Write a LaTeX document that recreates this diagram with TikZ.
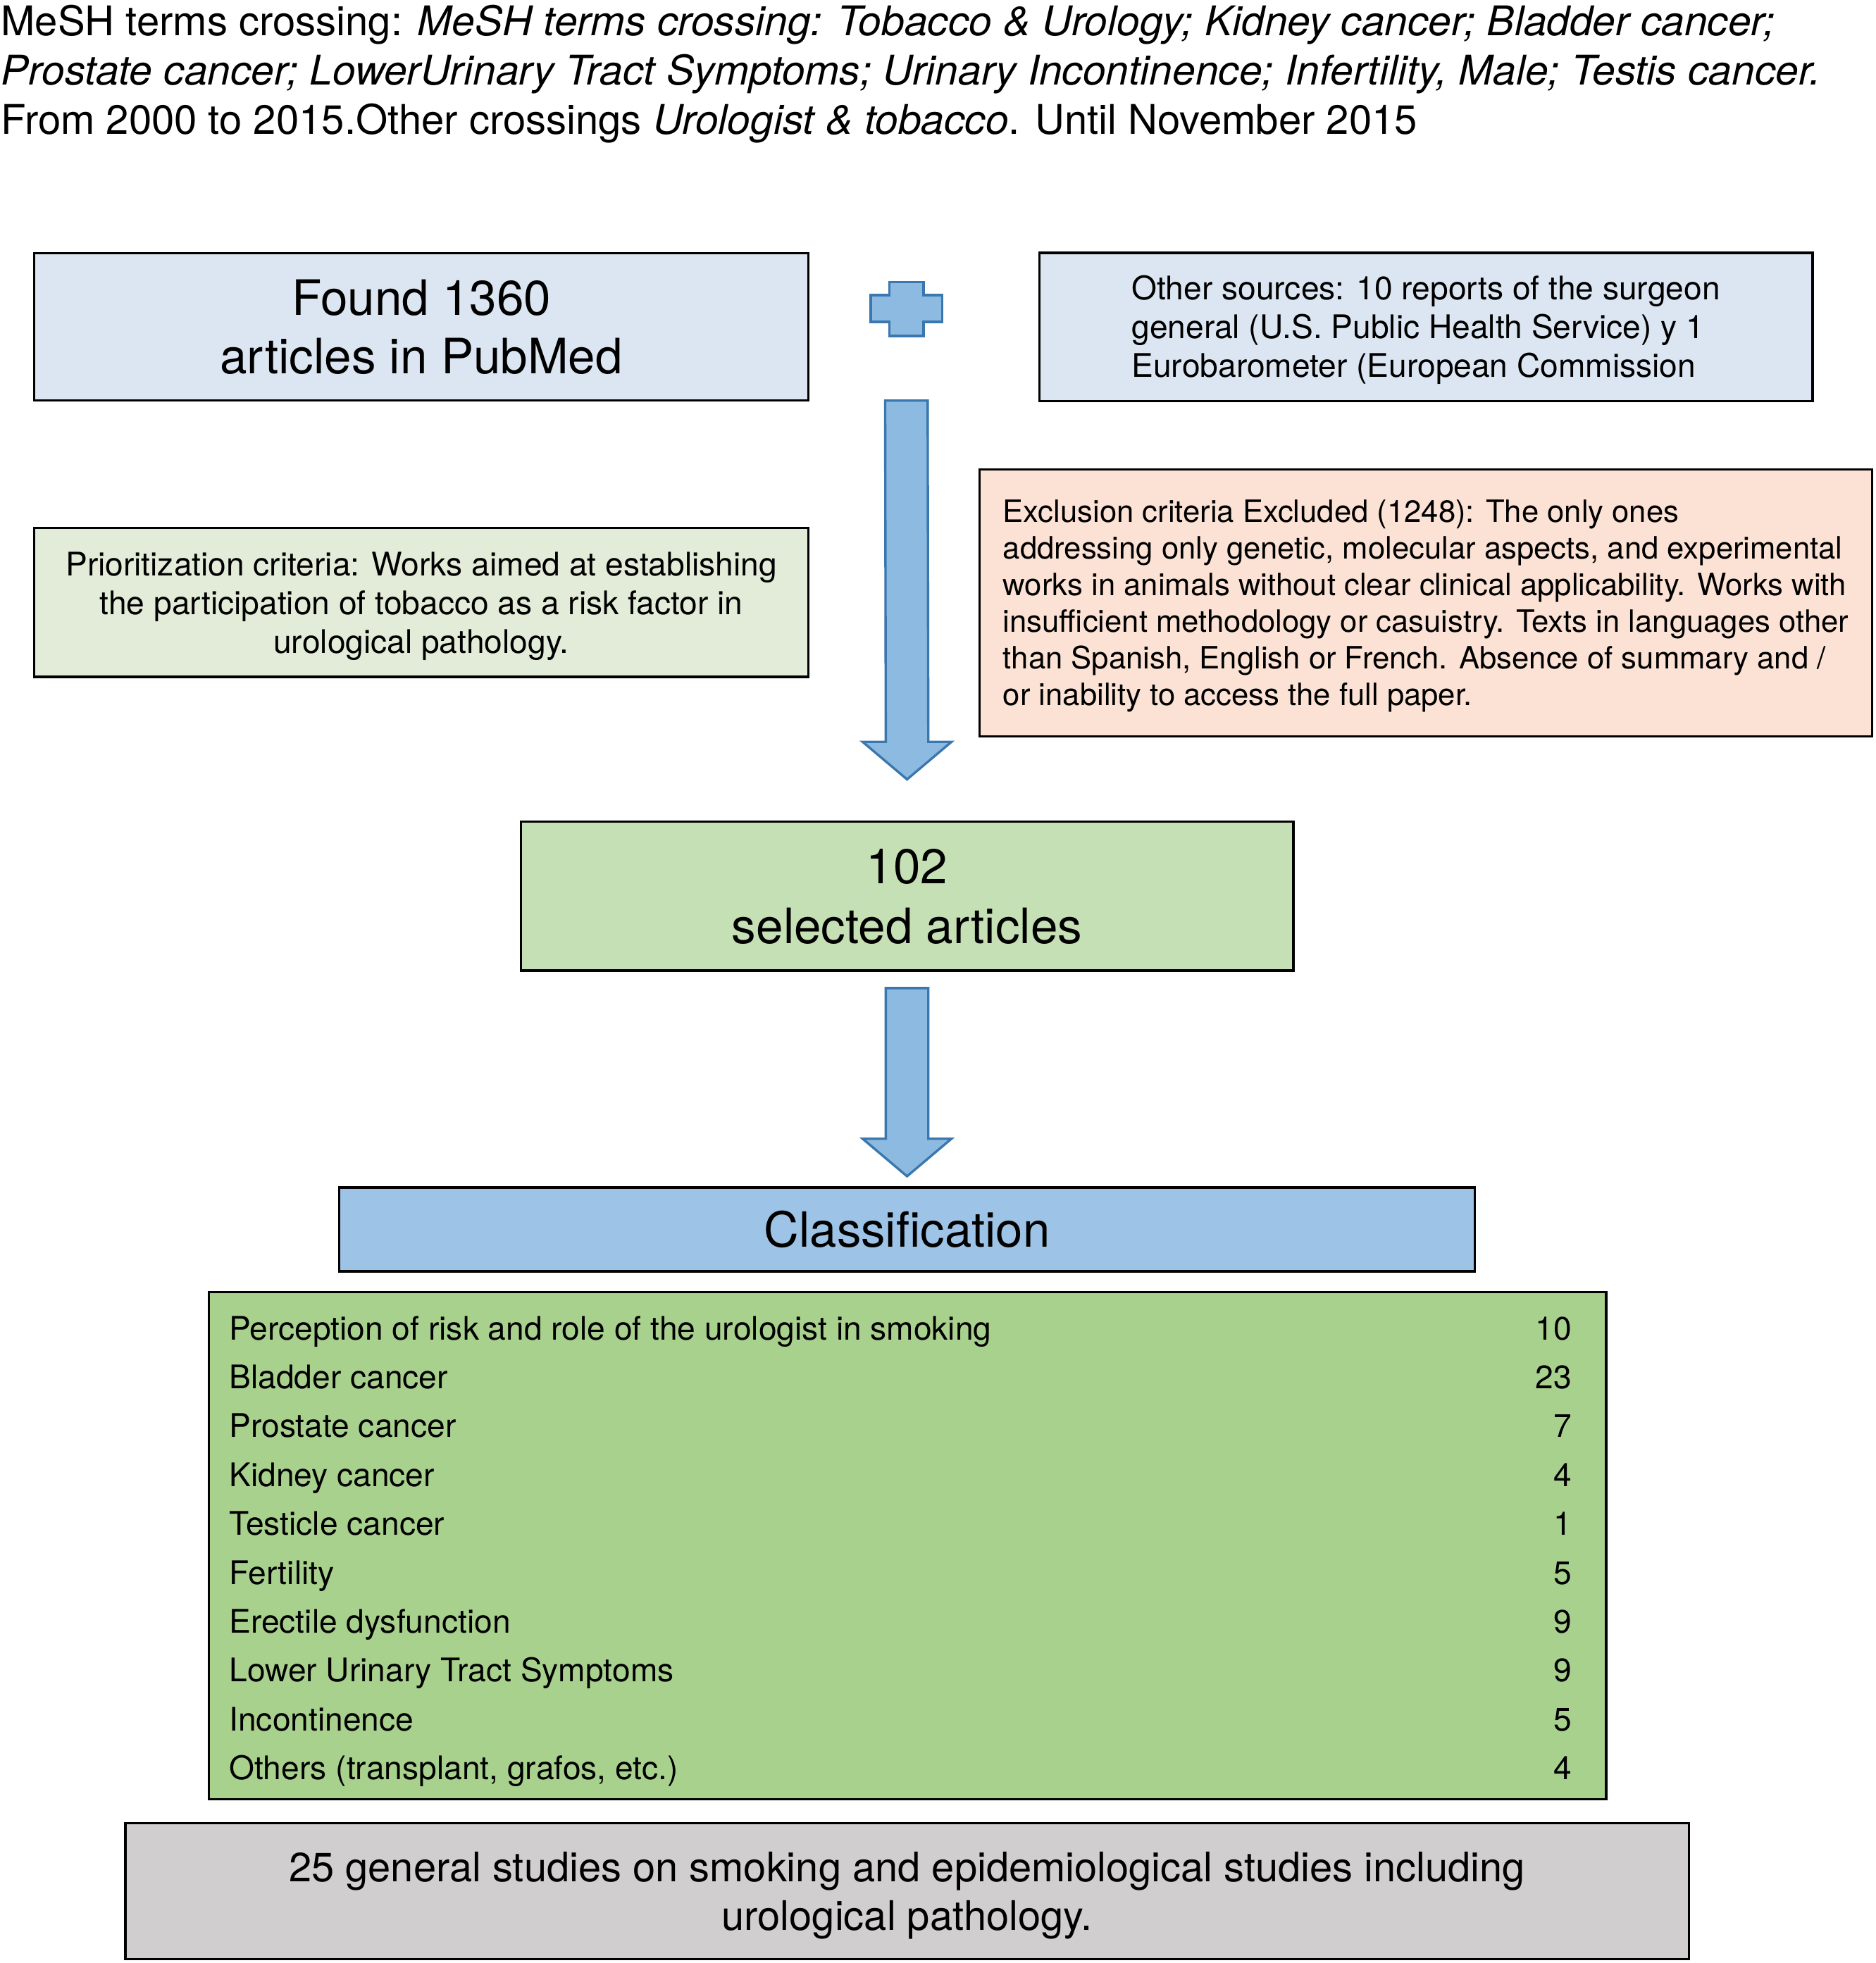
\documentclass[tikz,border=0pt]{standalone}
\usepackage{fontspec}
\setmainfont{TeX Gyre Heros}[ItalicFeatures={FakeStretch=1.011}]
\usetikzlibrary{calc}
\definecolor{srcblue}{HTML}{DCE6F2}
\definecolor{arrowfill}{HTML}{8DBAE0}
\definecolor{arrowline}{HTML}{3A77AF}
\definecolor{priogreen}{HTML}{E2ECD8}
\definecolor{exclpeach}{HTML}{FBE2D5}
\definecolor{selgreen}{HTML}{C5E0B4}
\definecolor{classblue}{HTML}{9DC3E6}
\definecolor{tablegreen}{HTML}{A9D18E}
\definecolor{grayfill}{HTML}{D0CECE}
\newcommand{\tstr}{\rule{0pt}{0.95em}}
\newcommand{\bstr}{\rule[-0.23em]{0pt}{0.23em}}
\newcommand{\blockarrow}[2]{%
  \draw[blockarrow] ($(#1)+(-17,0)$) -- ($(#1)+(17,0)$) -- ($(#2)+(17,-30)$) --
    ($(#2)+(35.5,-30)$) -- (#2) -- ($(#2)+(-35.5,-30)$) -- ($(#2)+(-17,-30)$) -- cycle;}
\begin{document}
\begin{tikzpicture}[x=0.5pt,y=-0.5pt,
  box/.style={draw=black, line width=0.9pt, rectangle, inner sep=0pt, outer sep=0pt},
  blockarrow/.style={fill=arrowfill, draw=arrowline, line width=0.95pt, line join=miter},
  rowtxt/.style={anchor=base west, inner sep=0pt, font=\fontsize{13}{15.6}\selectfont},
  rownum/.style={anchor=base east, inner sep=0pt, font=\fontsize{13}{15.6}\selectfont},
  titleline/.style={anchor=base west, inner sep=0pt, font=\fontsize{16.35}{19.7}\selectfont}]
\useasboundingbox (0,0) rectangle (1500,1570.4);

% title
\node[titleline] (t1) at (0.5,28.5) {MeSH terms crossing: \textit{MeSH terms crossing: Tobacco \& Urology; Kidney cancer; Bladder cancer;}};
\node[titleline] (t2) at (0.5,68) {\textit{Prostate cancer; LowerUrinary Tract Symptoms; Urinary Incontinence; Infertility, Male; Testis cancer.}};
\node[titleline] (t3) at (0.5,107.5) {From 2000 to 2015.Other crossings \textit{Urologist \& tobacco}. Until November 2015};

% top boxes
\node[box, fill=srcblue, minimum width=309.5pt, minimum height=59pt, align=center,
      font=\fontsize{19.5}{23.5}\selectfont] (found) at (337,261.5)
      {\tstr Found 1360\\articles in PubMed\bstr};
\node[box, fill=srcblue, minimum width=309.25pt, minimum height=59.25pt, align=left,
      font=\fontsize{13}{15.5}\selectfont] (other) at (1140.5,261.5)
      {\tstr Other sources: 10 reports of the surgeon\\general (U.S. Public Health Service) y 1\\Eurobarometer (European Commission\bstr};

% plus sign
\coordinate (plus) at (725,247.2);
\draw[blockarrow] ($(plus)+(-13.7,-21.7)$) -- ($(plus)+(13.7,-21.7)$) -- ($(plus)+(13.7,-11.2)$) --
  ($(plus)+(28.5,-11.2)$) -- ($(plus)+(28.5,10.3)$) -- ($(plus)+(13.7,10.3)$) --
  ($(plus)+(13.7,21.6)$) -- ($(plus)+(-13.7,21.6)$) -- ($(plus)+(-13.7,10.3)$) --
  ($(plus)+(-28.5,10.3)$) -- ($(plus)+(-28.5,-11.2)$) -- ($(plus)+(-13.7,-11.2)$) -- cycle;

% criteria boxes
\node[box, fill=priogreen, minimum width=309.5pt, minimum height=59.5pt, align=center,
      font=\fontsize{13}{15.5}\selectfont] (prio) at (337,482)
      {\tstr Prioritization criteria: Works aimed at establishing\\the participation of tobacco as a risk factor in\\urological pathology.\bstr};
\node[box, fill=exclpeach, minimum width=357pt, minimum height=106.85pt, align=left,
      font=\fontsize{12.3}{14.65}\selectfont] (excl) at (1140.5,482.3)
      {\tstr Exclusion criteria Excluded (1248): The only ones\\addressing only genetic, molecular aspects, and experimental\\works in animals without clear clinical applicability. Works with\\insufficient methodology or casuistry. Texts in languages other\\than Spanish, English or French. Absence of summary and /\\or inability to access the full paper.\bstr};

% selected
\node[box, fill=selgreen, minimum width=309pt, minimum height=59.5pt, align=center,
      font=\fontsize{19.5}{24}\selectfont] (sel) at (725.5,717)
      {\tstr 102\\selected articles\bstr};

% classification
\node[box, fill=classblue, minimum width=454pt, minimum height=33.5pt,
      font=\fontsize{19.4}{23}\selectfont] (cls) at (725.5,983.5) {Classification};

% arrows
\coordinate (a1s) at (plus |- found.south);
\coordinate (a1e) at ($(sel.north)+(0,-34)$);
\blockarrow{a1s}{a1e}
\coordinate (a2s) at ($(sel.south)+(0,14)$);
\coordinate (a2e) at ($(cls.north)+(0,-9)$);
\blockarrow{a2s}{a2e}

% table
\node[box, fill=tablegreen, minimum width=558.75pt, minimum height=203pt] (tab) at (726,1236.5) {};
\foreach \i/\lab/\n in {0/Perception of risk and role of the urologist in smoking/10,
  1/Bladder cancer/23, 2/Prostate cancer/7, 3/Kidney cancer/4, 4/Testicle cancer/1,
  5/Fertility/5, 6/Erectile dysfunction/9, 7/Lower Urinary Tract Symptoms/9,
  8/Incontinence/5, 9/{Others (transplant, grafos, etc.)}/4}{
  \node[rowtxt] (r\i) at (183,1071.8+39.1*\i) {\lab};
  \node[rownum] (n\i) at (1257.5,1071.8+39.1*\i) {\n};
}

% bottom
\node[box, fill=grayfill, minimum width=625.25pt, minimum height=54.25pt, align=center,
      font=\fontsize{16.3}{19.5}\selectfont] (bot) at (725.5,1513)
      {\tstr 25 general studies on smoking and epidemiological studies including\\urological pathology.\bstr};
\end{tikzpicture}
\end{document}
